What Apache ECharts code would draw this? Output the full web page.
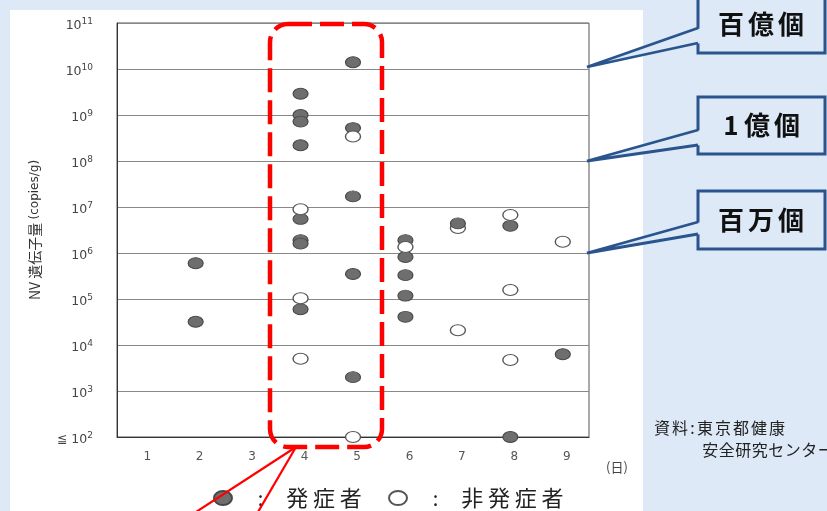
<!DOCTYPE html>
<html>
<head>
<meta charset="utf-8">
<script src="https://cdn.jsdelivr.net/npm/echarts@6/dist/echarts.min.js"></script>
<style>
  html, body { margin: 0; padding: 0; background: #dde9f6; }
  #chart { width: 827px; height: 511px; }
</style>
</head>
<body>
<div id="chart"></div>
<script>
// Days after onset (category axis)
const days = ['1', '2', '3', '4', '5', '6', '7', '8', '9'];

// NV gene copies per gram, [day, copies/g] — symptomatic cases
const symptomatic = [
  [2, 6.0e5], [2, 3.2e4],
  [4, 2.9e9], [4, 1.0e9], [4, 7.2e8], [4, 2.2e8], [4, 5.5e6], [4, 1.9e6], [4, 1.6e6], [4, 6.0e4],
  [5, 1.4e10], [5, 5.2e8], [5, 1.7e7], [5, 3.5e5], [5, 2.0e3],
  [6, 1.9e6], [6, 8.2e5], [6, 3.3e5], [6, 1.18e5], [6, 4.1e4],
  [7, 4.4e6],
  [8, 3.9e6], [8, 1e2],
  [9, 6.3e3]
];

// Asymptomatic cases
const asymptomatic = [
  [4, 8.9e6], [4, 1.04e5], [4, 5.0e3],
  [5, 3.4e8], [5, 1e2],
  [6, 1.35e6],
  [7, 3.5e6], [7, 2.1e4],
  [8, 6.7e6], [8, 1.57e5], [8, 4.7e3],
  [9, 1.76e6]
];

// Y tick labels: base text and exponent per decade
const yTickExps  = [2, 3, 4, 5, 6, 7, 8, 9, 10, 11];
const yTickBases = ['≦ 10', '10', '10', '10', '10', '10', '10', '10', '10', '10'];

// Callout texts on the right
const calloutTexts = ['百億個', '1億個', '百万個'];

const CJK = '"Noto Sans CJK JP", sans-serif';
const NUM = '"DejaVu Sans", sans-serif';

const toPoint = d => [String(d[0]), d[1]];
// the day-7 symptomatic point sits on top of the asymptomatic one
const filledBack  = symptomatic.filter(d => d[0] !== 7).map(toPoint);
const filledFront = symptomatic.filter(d => d[0] === 7).map(toPoint);
const hollow      = asymptomatic.map(toPoint);

// spread characters on a fixed pitch
function spaced(text, key) {
  return Array.from(text).map(ch => '{' + (/[0-9]/.test(ch) ? key + 'n' : key) + '|' + ch + '}').join('');
}

const ellipseIcon = 'path://M0,7a9,7 0 1,0 18,0a9,7 0 1,0 -18,0z';

const legendBase = {
  orient: 'horizontal',
  top: 482,
  itemWidth: 18,
  itemHeight: 14,
  icon: ellipseIcon,
  selectedMode: false,
  textStyle: {
    color: '#222',
    rich: {
      c: { width: 47, align: 'center', fontSize: 20, fontFamily: CJK, color: '#222' },
      t: { width: 26.7, align: 'center', fontSize: 22, fontFamily: CJK, color: '#222' }
    }
  },
  formatter: name => '{c|:}' + spaced(name, 't')
};

const graphics = [
  // white panel behind the chart
  { type: 'rect', z: -100, shape: { x: 10, y: 10, width: 633, height: 510 }, style: { fill: '#ffffff' } },
  // highlight around days 4–5
  { type: 'rect', z: 100, shape: { x: 270, y: 24, width: 112, height: 423, r: 18 },
    style: { fill: 'none', stroke: '#ff0000', lineWidth: 4.5, lineDash: [24, 8] } },
  { type: 'line', z: 100, shape: { x1: 296, y1: 447, x2: 196, y2: 512 }, style: { stroke: '#ff0000', lineWidth: 2.2 } },
  { type: 'line', z: 100, shape: { x1: 296, y1: 447, x2: 258, y2: 512 }, style: { stroke: '#ff0000', lineWidth: 2.2 } },
  // day unit
  { type: 'text', x: 617, y: 467, style: { text: '(日)', font: '13px ' + CJK, fill: '#444', align: 'center', verticalAlign: 'middle' } },
  // source
  { type: 'text', x: 653, y: 428, style: { text: spaced('資料', 's') + '{p|:}' + spaced('東京都健康', 's'),
      fill: '#222', verticalAlign: 'middle',
      rich: { s: { width: 18, align: 'center', fontSize: 16, fontFamily: CJK, color: '#222' },
              p: { width: 7, align: 'center', fontSize: 16, fontFamily: CJK, color: '#222' } } } },
  { type: 'text', x: 702, y: 450, style: { text: spaced('安全研究センター', 's'),
      fill: '#222', verticalAlign: 'middle',
      rich: { s: { width: 16.5, align: 'center', fontSize: 16, fontFamily: CJK, color: '#222' } } } }
];

// callout boxes pointing at the 10^10, 10^8 and 10^6 grid lines
const calloutBoxes = [
  { top: -6, bottom: 53, w1: 28, w2: 43, tip: 67 },
  { top: 97, bottom: 154, w1: 130, w2: 145, tip: 161 },
  { top: 191, bottom: 249, w1: 222, w2: 234, tip: 253 }
];
const BLUE = '#2a548e';
const BG = '#dde9f6';
calloutBoxes.forEach((b, i) => {
  graphics.push({ type: 'rect', z: 50, shape: { x: 698, y: b.top, width: 127, height: b.bottom - b.top },
    style: { fill: BG, stroke: BLUE, lineWidth: 3 } });
  graphics.push({ type: 'polygon', z: 51, shape: { points: [[701, b.w1], [587, b.tip], [701, b.w2]] },
    style: { fill: BG } });
  graphics.push({ type: 'polyline', z: 52, shape: { points: [[698, b.w1], [587, b.tip], [698, b.w2]] },
    style: { fill: 'none', stroke: BLUE, lineWidth: 2.8 } });
  graphics.push({ type: 'text', z: 53, x: 761, y: (Math.max(b.top, 0) + b.bottom) / 2 - (i === 0 ? 2 : 0),
    style: { text: spaced(calloutTexts[i], 'k'), align: 'center', verticalAlign: 'middle', fill: '#111',
      rich: { k: { width: 30, align: 'center', fontSize: 26, fontWeight: 'bold', fontFamily: CJK, color: '#111' },
              kn: { width: 22, align: 'center', fontSize: 26, fontWeight: 'bold', fontFamily: CJK, color: '#111' } } } });
});

const chart = echarts.init(document.getElementById('chart'), null, { renderer: 'canvas' });
chart.setOption({
  backgroundColor: BG,
  animation: false,
  grid: { left: 117, right: 238, top: 23, bottom: 74, show: true, backgroundColor: '#fff', borderColor: '#555', borderWidth: 1 },
  legend: [
    Object.assign({}, legendBase, { left: 208, data: ['発症者'] }),
    Object.assign({}, legendBase, { left: 383, data: ['非発症者'] })
  ],
  xAxis: {
    type: 'category',
    data: days,
    boundaryGap: true,
    axisLine: { lineStyle: { color: '#333', width: 1 } },
    axisTick: { inside: true, length: 4, lineStyle: { color: '#444' } },
    axisLabel: { color: '#555', fontSize: 12, fontFamily: NUM, margin: 14, padding: [0, 0, 0, 8] },
    splitLine: { show: false }
  },
  yAxis: {
    type: 'log',
    logBase: 10,
    min: 1e2,
    max: 1e11,
    splitNumber: 9,
    name: '{a|NV 遺伝子量} {b|(copies/g)}',
    nameLocation: 'middle',
    nameRotate: 90,
    nameGap: 75,
    nameTextStyle: {
      rich: {
        a: { fontSize: 14, fontFamily: CJK, color: '#333' },
        b: { fontSize: 12, fontFamily: NUM, color: '#333' }
      }
    },
    axisLine: { show: true, lineStyle: { color: '#333', width: 1 } },
    axisTick: { show: false },
    splitLine: { show: true, lineStyle: { color: '#888', width: 1 } },
    axisLabel: {
      margin: 24,
      padding: [5, 0, 0, 0],
      formatter: v => {
        const e = Math.round(Math.log10(v));
        const k = yTickExps.indexOf(e);
        return '{b|' + yTickBases[k] + '}{s|' + e + '}';
      },
      rich: {
        b: { fontSize: 12.5, fontFamily: NUM, color: '#444' },
        s: { fontSize: 9, fontFamily: NUM, color: '#444', padding: [0, 0, 8, 0] }
      }
    }
  },
  series: [
    { type: 'scatter', name: '発症者', z: 2, silent: true, symbol: 'circle', symbolSize: [15, 11],
      itemStyle: { color: '#6e6e6e', borderColor: '#474747', borderWidth: 1, opacity: 1 }, data: filledBack },
    { type: 'scatter', name: '非発症者', z: 3, silent: true, symbol: 'circle', symbolSize: [15, 11],
      itemStyle: { color: '#ffffff', borderColor: '#555', borderWidth: 1.2, opacity: 1 }, data: hollow },
    { type: 'scatter', name: '発症者', z: 4, silent: true, symbol: 'circle', symbolSize: [15, 11],
      itemStyle: { color: '#6e6e6e', borderColor: '#474747', borderWidth: 1, opacity: 1 }, data: filledFront }
  ],
  graphic: { elements: graphics }
});
</script>
</body>
</html>
